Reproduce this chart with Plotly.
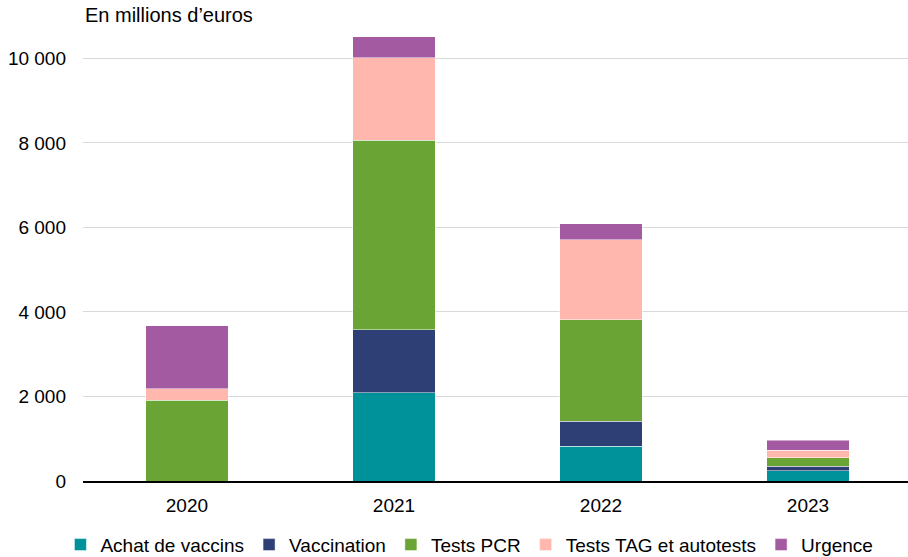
import plotly.graph_objects as go

years = ["2020", "2021", "2022", "2023"]
series_names = ["Achat de vaccins", "Vaccination", "Tests PCR", "Tests TAG et autotests", "Urgence"]
achat_vaccins = [0, 2090, 820, 245]
vaccination = [0, 1490, 590, 110]
tests_pcr = [1910, 4480, 2410, 190]
tests_tag = [275, 1960, 1890, 180]
urgence = [1490, 490, 380, 235]
colors = ["#00929B", "#2E3F75", "#69A434", "#FFB7AE", "#A45AA0"]
y_tickvals = [0, 2000, 4000, 6000, 8000, 10000]
y_ticktext = ["0", "2 000", "4 000", "6 000", "8 000", "10 000"]

values = [achat_vaccins, vaccination, tests_pcr, tests_tag, urgence]
font = "Liberation Sans, Arial, sans-serif"

fig = go.Figure()
for name, vals, col in zip(series_names, values, colors):
    fig.add_trace(go.Bar(
        x=years, y=vals, name=name,
        marker=dict(color=col, line=dict(color="rgba(255,255,255,0.6)", width=0.8)),
        width=0.4,
    ))

fig.update_layout(
    barmode="stack",
    width=908, height=557,
    margin=dict(l=83, r=0, t=30, b=76, autoexpand=False),
    paper_bgcolor="white", plot_bgcolor="white",
    font=dict(family=font, size=19, color="#000000"),
    showlegend=True,
    legend=dict(orientation="h", xref="container", yref="container",
                x=0.517, xanchor="center", y=0.022, yanchor="middle",
                font=dict(size=19), itemwidth=30, traceorder="normal",
                tracegroupgap=0),
    xaxis=dict(type="category", range=[-0.502, 3.483], showgrid=False,
               showline=True, linecolor="#000000", linewidth=1.5,
               ticks="", ticklabelstandoff=6, tickfont=dict(size=19)),
    yaxis=dict(range=[0, 10672], tickvals=y_tickvals, ticktext=y_ticktext,
               showgrid=True, gridcolor="#D9D9D9", gridwidth=1,
               zeroline=False, showline=False, ticks="",
               ticklabelstandoff=16, tickfont=dict(size=19)),
    annotations=[dict(text="En millions d\u2019euros", xref="paper", yref="paper",
                      x=0, xanchor="left", y=1, yshift=15, yanchor="middle",
                      showarrow=False, font=dict(size=20))],
)

fig.write_html("out.html", config={"displayModeBar": False},
               post_script="document.body.style.margin='0';document.body.style.overflow='hidden';")
